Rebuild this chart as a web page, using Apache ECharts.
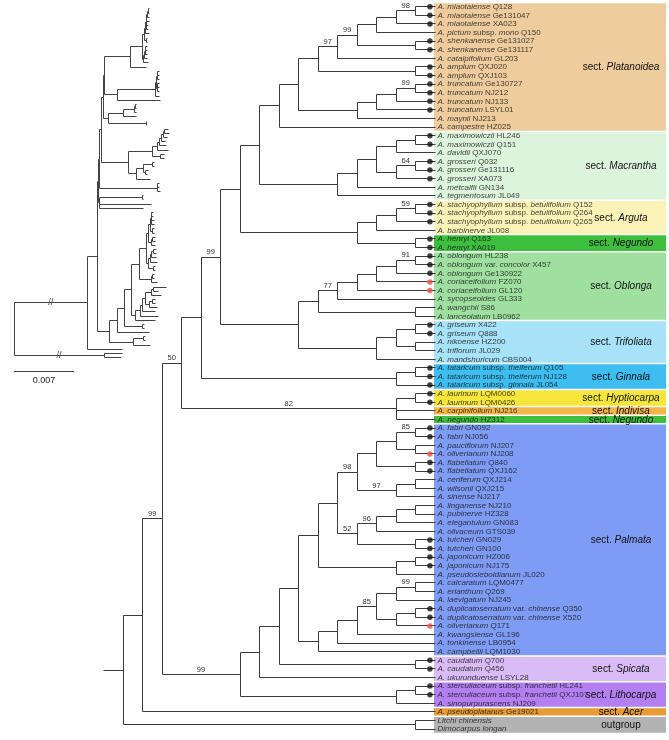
<!DOCTYPE html>
<html><head><meta charset="utf-8">
<script src="https://cdn.jsdelivr.net/npm/echarts@6/dist/echarts.min.js"></script>
<style>html,body{margin:0;padding:0;background:#fff}#c{width:669px;height:740px}</style>
</head><body><div id="c"></div>
<script>
// ---------------- DATA ----------------
const TIP_LABELS = [
 "*A. miaotaiense* Q128","*A. miaotaiense* Ge131047","*A. miaotaiense* XA023","*A. pictum* subsp. *mono* Q150",
 "*A. shenkanense* Ge131027","*A. shenkanense* Ge131117","*A. catalpifolium* GL203","*A. amplum* QXJ020","*A. amplum* QXJ103",
 "*A. truncatum* Ge130727","*A. truncatum* NJ212","*A. truncatum* NJ133","*A. truncatum* LSYL01","*A. maynii* NJ213","*A. campestre* HZ025",
 "*A. maximowiczii* HL246","*A. maximowiczii* Q151","*A. davidii* QXJ070","*A. grosseri* Q032","*A. grosseri* Ge131116","*A. grosseri* XA073",
 "*A. metcalfii* GN134","*A. tegmentosum* JL049",
 "*A. stachyophyllum* subsp. *betulifolium* Q152","*A. stachyophyllum* subsp. *betulifolium* Q264","*A. stachyophyllum* subsp. *betulifolium* Q265","*A. barbinerve* JL008",
 "*A. henryi* Q163","*A. henryi* XA019",
 "*A. oblongum* HL238","*A. oblongum* var. *concolor* X457","*A. oblongum* Ge130922","*A. coriaceifolium* FZ070","*A. coriaceifolium* GL120",
 "*A. sycopseoides* GL333","*A. wangchii* S86","*A. lanceolatum* LB0962",
 "*A. griseum* X422","*A. griseum* Q888","*A. nikoense* HZ200","*A. triflorum* JL029","*A. mandshuricum* CBS004",
 "*A. tataricum* subsp. *theiferum* Q105","*A. tataricum* subsp. *theiferum* NJ128","*A. tataricum* subsp. *ginnala* JL054",
 "*A. laurinum* LQM0060","*A. laurinum* LQM0426","*A. carpinifolium* NJ216","*A. negundo* HZ312",
 "*A. fabri* GN092","*A. fabri* NJ056","*A. pauciflorum* NJ207","*A. oliverianum* NJ208","*A. flabellatum* Q840","*A. flabellatum* QXJ162",
 "*A. ceriferum* QXJ214","*A. wilsonii* QXJ215","*A. sinense* NJ217","*A. linganense* NJ210","*A. pubinerve* HZ328","*A. elegantulum* GN083",
 "*A. olivaceum* GTS039","*A. tutcheri* GN029","*A. tutcheri* GN100","*A. japonicum* HZ006","*A. japonicum* NJ175","*A. pseudosieboldianum* JL020",
 "*A. calcaratum* LQM0477","*A. erianthum* Q269","*A. laevigatum* NJ245","*A. duplicatoserratum* var. *chinense* Q350","*A. duplicatoserratum* var. *chinense* X520",
 "*A. oliverianum* Q171","*A. kwangsiense* GL196","*A. tonkinense* LB0954","*A. campbellii* LQM1030",
 "*A. caudatum* Q700","*A. caudatum* Q456","*A. ukurunduense* LSYL28",
 "*A. sterculiaceum* subsp. *franchetii* HL241","*A. sterculiaceum* subsp. *franchetii* QXJ107","*A. sinopurpurascens* NJ209",
 "*A. pseudoplatanus* Ge19021","*Litchi chinensis*","*Dimocarpus longan*"
];
const BLACK_DOT_TIPS = [1,2,3,5,6,8,9,10,11,12,13,16,17,19,20,21,24,25,26,28,29,30,31,32,38,39,43,44,45,46,47,50,51,54,55,63,64,65,66,71,72,77,78,80,81];
const RED_DOT_TIPS = [33,34,53,73];

const SECTION_NAMES = ['Platanoidea','Macrantha','Arguta','Negundo','Oblonga','Trifoliata','Ginnala','Hyptiocarpa','Indivisa','Negundo','Palmata','Spicata','Lithocarpa','Acer','outgroup'];
const SECTION_FIRST = [1,16,24,28,30,38,43,46,48,49,50,77,80,83,84];
const SECTION_LAST  = [15,23,27,29,37,42,45,47,48,49,76,79,82,83,85];

// Tree (Newick pieces): tip = index in TIP_LABELS (1-based), internal label = support, :length (subst./site)
const PLAT_A = "((((((1:0.0001,2:0.0001)98:0.0001,3:0.0002):0.0001,4:0.0003):0.0001,(5:0.0002,6:0.0002):0.0001)99:0.0001,7:0.0005)97:0.0001,(8:0.0002,9:0.0002):0.0002)";
const PLAT_B = "((((10:0.0002,11:0.0002)99:0.0001,12:0.0003):0.0001,13:0.0004):0.0001,14:0.0006)";
const MACR = "(((((16:0.0002,17:0.0002):0.0001,18:0.0003):0.0001,((19:0.0002,20:0.0002)64:0.0001,21:0.0003):0.0001):0.0001,22:0.0005):0.0044,23:0.0050)";
const ARGU_HENRYI = "((((24:0.0001,25:0.0001)59:0.0001,26:0.0002):0.0013,27:0.0015):0.0018,(28:0.0001,29:0.0001):0.0044)";
const OBLO = "((((((30:0.0004,31:0.0005)91:0.0002,32:0.0005):0.0002,33:0.0005):0.0002,34:0.0008):0.0002,35:0.0012)77:0.0006,(36:0.0005,37:0.0005):0.0009)";
const TRIF = "(((38:0.0002,39:0.0002):0.0011,(40:0.0004,41:0.0003):0.0002):0.0008,42:0.0016)";
const GINN = "((43:0.0002,44:0.0002):0.0001,45:0.0004)";
const HYPT = "((46:0.0001,47:0.0001):0.0050,48:0.0060,49:0.0051)82";
const PALM_A = "((((50:0.0002,51:0.0002)85:0.0001,(52:0.0003,53:0.0003):0.0001):0.0001,(54:0.0002,55:0.0002):0.0003):0.0002,((56:0.0003,57:0.0003):0.0002,58:0.0005)97:0.0003)98";
const PALM_B = "((((59:0.0003,60:0.0003):0.0002,61:0.0005):0.0002,62:0.0009)96:0.0002,(63:0.0002,64:0.0002):0.0006)52";
const PALM_JAP = "((65:0.0002,66:0.0002):0.0002,67:0.0007)";
const PALM_LOW = "((((((68:0.0015,69:0.0006)99:0.0003,70:0.0012):0.0007,((71:0.0003,72:0.0003):0.0004,73:0.0009):0.0005)85:0.0003,74:0.0015):0.0003,75:0.0021):0.0005,76:0.0023)";
const LITH = "((80:0.0002,81:0.0002):0.0012,82:0.0020)";

const PALM = `(((${PALM_A}:0.0002,${PALM_B}:0.0002):0.0009,${PALM_JAP}:0.0014):0.0009,${PALM_LOW}:0.0005)`;
const PALM_SPIC = `(((${PALM}:0.0008,(77:0.0002,78:0.0002):0.0021):0.0008,79:0.0037):0.0009,${LITH}:0.0027)99`;
const UPPER = `(((((((${PLAT_A}:0.0002,${PLAT_B}:0.0001):0.0014,15:0.0019):0.0030,${MACR}:0.0015):0.0002,${ARGU_HENRYI}:0.0006):0.0002,(${OBLO}:0.0028,${TRIF}:0.0009):0.0032)99:0.0002,${GINN}:0.0067):0.0001,${HYPT}:0.0001)50`;
const NEWICK = `(((${UPPER}:0.0002,${PALM_SPIC}:0.0015)99:0.0011,83:0.0041):0.0086,(84:0.0022,85:0.0020):0.0105);`;
const SCALE_VALUE = 0.007;

// ---------------- STYLE ----------------
const SECTION_COLORS = ['#EFCC9E','#DCF3DC','#FAF2B6','#3DBE3D','#9FDF9F','#A6E2F8','#3DBDF0','#F6E63C','#F5B446','#3DBE3D','#7F9CF5','#D9BCF6','#B37FF1','#E69B34','#B3B3B3'];
const FONT = "'Liberation Sans', Arial, Helvetica, sans-serif";
const LINE = '#3c3c3c';

// ---------------- TREE PARSE / LAYOUT ----------------
function parseNewick(s) {
  let i = 0;
  function node() {
    const n = {children: []};
    if (s[i] === '(') {
      i++; n.children.push(node());
      while (s[i] === ',') { i++; n.children.push(node()); }
      if (s[i] !== ')') throw new Error('newick parse error at ' + i);
      i++;
    }
    let name = '';
    while (i < s.length && !',():;'.includes(s[i])) name += s[i++];
    n.len = 0;
    if (s[i] === ':') { i++; let l = ''; while (i < s.length && !',();'.includes(s[i])) l += s[i++]; n.len = parseFloat(l); }
    if (n.children.length) n.support = name; else n.tip = parseInt(name, 10);
    return n;
  }
  return node();
}
const root = parseNewick(NEWICK);
function layout(n, depth) {
  n.cum = depth;
  if (!n.children.length) { n.h = 0; n.y = n.tip; return; }
  n.children.forEach(c => layout(c, depth + c.len));
  n.h = 1 + Math.max(...n.children.map(c => c.h));
  n.y = (n.children[0].y + n.children[n.children.length - 1].y) / 2;
}
layout(root, 0);
const CL_SEG = [], PH_SEG = [], SUP = [], SUP_TXT = [];
let tipCount = 0;
function walk(n) {
  if (!n.children.length) { tipCount++; return; }
  const f = n.children[0], l = n.children[n.children.length - 1];
  CL_SEG.push([-n.h, f.y, -n.h, l.y]);
  PH_SEG.push([n.cum, f.y, n.cum, l.y]);
  n.children.forEach(c => {
    CL_SEG.push([-n.h, c.y, -c.h, c.y]);
    PH_SEG.push([n.cum, c.y, c.cum, c.y]);
    if (c.support) { SUP.push([(-n.h - c.h) / 2, c.y]); SUP_TXT.push(c.support); }
    walk(c);
  });
}
walk(root);
if (tipCount !== TIP_LABELS.length) throw new Error('tip count ' + tipCount);
CL_SEG.push([-(root.h + 1), root.y, -root.h, root.y]);
const BREAKS = root.children.map(c => [c.cum / 2, c.y]);

const toRich = s => s.replace(/\*([^*]+)\*/g, '{i|$1}');
const snap = v => Math.round(v - 0.5) + 0.5;

function segRender(color) {
  return function (params, api) {
    const p1 = api.coord([api.value(0), api.value(1)]);
    const p2 = api.coord([api.value(2), api.value(3)]);
    return {type: 'line', shape: {x1: snap(p1[0]), y1: snap(p1[1]), x2: snap(p2[0]), y2: snap(p2[1])},
      style: {stroke: color, lineWidth: 1}};
  };
}

const dotData = [];
BLACK_DOT_TIPS.forEach(t => dotData.push({value: [-0.26, t], itemStyle: {color: '#111'}}));
RED_DOT_TIPS.forEach(t => dotData.push({value: [-0.26, t], itemStyle: {color: '#f04a4a'}}));

const chart = echarts.init(document.getElementById('c'), null, {renderer: 'canvas'});
chart.setOption({
  animation: false,
  backgroundColor: '#fff',
  grid: [
    {left: 103.5, top: 2.4, width: 331.5, height: 731, containLabel: false, outerBoundsMode: 'none'},
    {left: 14, top: 6.9, width: 180, height: 352.75, containLabel: false, outerBoundsMode: 'none'}
  ],
  xAxis: [
    {type: 'value', gridIndex: 0, min: -17, max: 0, show: false},
    {type: 'value', gridIndex: 1, min: 0, max: 0.021, show: false}
  ],
  yAxis: [
    {type: 'value', gridIndex: 0, min: 0.5, max: 85.5, inverse: true, show: false},
    {type: 'value', gridIndex: 1, min: 0.5, max: 85.5, inverse: true, show: false}
  ],
  series: [
    { // section boxes
      type: 'custom', xAxisIndex: 0, yAxisIndex: 0, silent: true, z: 1,
      data: SECTION_FIRST.map((f, k) => [0, f, SECTION_LAST[k]]),
      encode: {x: 0, y: [1, 2]},
      renderItem: function (params, api) {
        const k = params.dataIndex;
        const top = api.coord([0, api.value(1) - 0.5])[1] + 0.75;
        const bot = api.coord([0, api.value(2) + 0.5])[1] - 0.75;
        const x0 = api.coord([0, 0])[0] - 1;
        const x1 = 666;
        const name = SECTION_NAMES[k];
        const text = name === 'outgroup' ? 'outgroup' : 'sect. {i|' + name + '}';
        return {type: 'group', children: [
          {type: 'rect', shape: {x: x0, y: top, width: x1 - x0, height: bot - top}, style: {fill: SECTION_COLORS[k]}},
          {type: 'text', x: 621, y: (top + bot) / 2 + 0.5, z2: 5,
           style: {text: text, fill: '#111', fontSize: 10, fontFamily: FONT, align: 'center', verticalAlign: 'middle',
             rich: {i: {fontStyle: 'italic', fontSize: 10, fontFamily: FONT, fill: '#111'}}}}
        ]};
      }
    },
    { // cladogram branches
      type: 'custom', xAxisIndex: 0, yAxisIndex: 0, silent: true, z: 2,
      data: CL_SEG, encode: {x: [0, 2], y: [1, 3]},
      renderItem: segRender(LINE)
    },
    { // support values
      type: 'custom', xAxisIndex: 0, yAxisIndex: 0, silent: true, z: 3,
      data: SUP, encode: {x: 0, y: 1},
      renderItem: function (params, api) {
        const p = api.coord([api.value(0), api.value(1)]);
        return {type: 'text', x: p[0], y: p[1] - 1,
          style: {text: SUP_TXT[params.dataIndex], fill: '#333', fontSize: 7.5, fontFamily: FONT, align: 'center', verticalAlign: 'bottom'}};
      }
    },
    { // tip dots
      type: 'scatter', xAxisIndex: 0, yAxisIndex: 0, silent: true, z: 4,
      symbol: 'circle', symbolSize: 5.5, data: dotData
    },
    { // tip labels
      type: 'scatter', xAxisIndex: 0, yAxisIndex: 0, silent: true, z: 4,
      symbolSize: 1, itemStyle: {color: 'rgba(0,0,0,0)'},
      data: TIP_LABELS.map((t, i) => [0, i + 1]),
      label: {show: true, position: 'right', distance: 2,
        formatter: p => toRich(TIP_LABELS[p.dataIndex]),
        fontSize: 8, fontFamily: FONT, color: '#111',
        rich: {i: {fontStyle: 'italic', fontSize: 8, fontFamily: FONT, color: '#111'}}},
      labelLayout: {hideOverlap: false}
    },
    { // phylogram branches
      type: 'custom', xAxisIndex: 1, yAxisIndex: 1, silent: true, z: 2,
      data: PH_SEG, encode: {x: [0, 2], y: [1, 3]},
      renderItem: segRender('#444')
    },
    { // break marks on root branches
      type: 'custom', xAxisIndex: 1, yAxisIndex: 1, silent: true, z: 3,
      data: BREAKS, encode: {x: 0, y: 1},
      renderItem: function (params, api) {
        const p = api.coord([api.value(0), api.value(1)]);
        return {type: 'text', x: p[0], y: p[1],
          style: {text: '//', fill: '#444', fontSize: 9, fontFamily: FONT, align: 'center', verticalAlign: 'middle'}};
      }
    },
    { // scale bar
      type: 'custom', xAxisIndex: 1, yAxisIndex: 1, silent: true, z: 3,
      data: [[0, SCALE_VALUE]], encode: {x: [0, 1]},
      renderItem: function (params, api) {
        const p0 = api.coord([api.value(0), 85.5]);
        const p1 = api.coord([api.value(1), 85.5]);
        const y = snap(p0[1] + 12);
        return {type: 'group', children: [
          {type: 'line', shape: {x1: p0[0], y1: y, x2: p1[0], y2: y}, style: {stroke: '#444', lineWidth: 1}},
          {type: 'text', x: (p0[0] + p1[0]) / 2, y: y + 5,
           style: {text: String(SCALE_VALUE), fill: '#222', fontSize: 9, fontFamily: FONT, align: 'center', verticalAlign: 'top'}}
        ]};
      }
    }
  ]
});
</script>
</body></html>
